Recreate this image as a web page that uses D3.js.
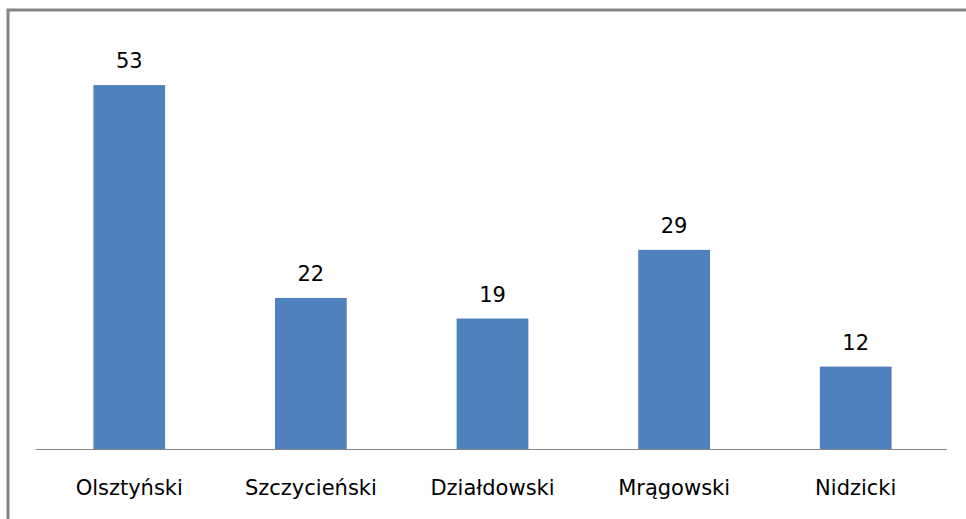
<!DOCTYPE html>
<html>
<head>
<meta charset="utf-8">
<script src="https://cdn.jsdelivr.net/npm/d3@7"></script>
<style>
  body { margin: 0; background: #fff; }
  svg { display: block; }
</style>
</head>
<body>
<div id="chart"></div>
<script>
// dane
const districts = ['Olsztyński', 'Szczycieński', 'Działdowski', 'Mrągowski', 'Nidzicki'];
const counts = [53, 22, 19, 29, 12];

const width = 966, height = 519;
const baseY = 449;

const svg = d3.select('#chart')
  .append('svg')
  .attr('width', width)
  .attr('height', height);

// ramka (ucięta z prawej i z dołu)
svg.append('path')
  .attr('d', `M8,${height + 5} V10 H${width + 5}`)
  .attr('fill', 'none')
  .attr('stroke', '#858585')
  .attr('stroke-width', 3);

const x = d3.scaleBand()
  .domain(districts)
  .range([38, 947])
  .paddingInner(0.605)
  .paddingOuter(0.305);

const y = d3.scaleLinear()
  .domain([0, 60])
  .range([baseY, baseY - 412]);

const data = districts.map((d, i) => ({ name: d, value: counts[i] }));

// słupki
svg.append('g')
  .selectAll('rect')
  .data(data)
  .enter()
  .append('rect')
  .attr('x', d => x(d.name))
  .attr('y', d => y(d.value))
  .attr('width', x.bandwidth())
  .attr('height', d => baseY - y(d.value))
  .attr('fill', '#4F81BD');

// oś X
svg.append('line')
  .attr('x1', 36)
  .attr('x2', 947)
  .attr('y1', baseY + 0.5)
  .attr('y2', baseY + 0.5)
  .attr('stroke', '#868686')
  .attr('stroke-width', 1);

// etykiety wartości
svg.append('g')
  .selectAll('text')
  .data(data)
  .enter()
  .append('text')
  .attr('x', d => x(d.name) + x.bandwidth() / 2)
  .attr('y', d => y(d.value) - 17)
  .attr('text-anchor', 'middle')
  .attr('font-family', 'DejaVu Sans, sans-serif')
  .attr('font-size', '21px')
  .attr('fill', '#000')
  .text(d => d.value);

// etykiety kategorii
svg.append('g')
  .selectAll('text')
  .data(data)
  .enter()
  .append('text')
  .attr('x', d => x(d.name) + x.bandwidth() / 2)
  .attr('y', 495)
  .attr('text-anchor', 'middle')
  .attr('font-family', 'DejaVu Sans, sans-serif')
  .attr('font-size', '21px')
  .attr('fill', '#000')
  .text(d => d.name);
</script>
</body>
</html>
